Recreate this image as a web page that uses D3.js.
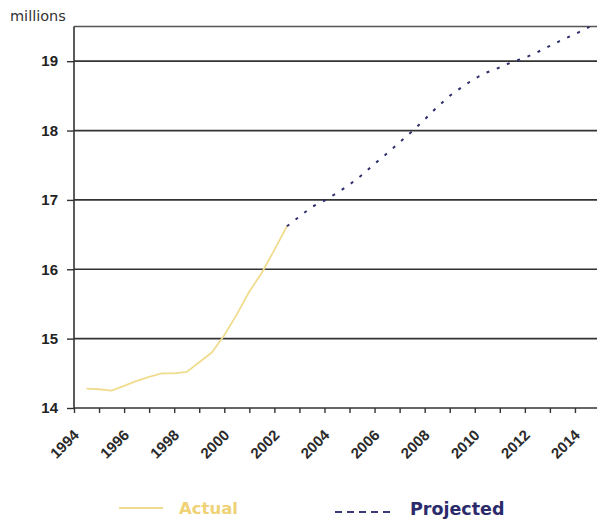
<!DOCTYPE html>
<html>
<head>
<meta charset="utf-8">
<script src="https://cdn.jsdelivr.net/npm/d3@7/dist/d3.min.js"></script>
<style>
  html, body { margin: 0; padding: 0; background: #fff; }
  svg { display: block; }
</style>
</head>
<body>
<svg id="chart" width="597" height="523"></svg>
<script>
// Population in millions, actual and projected (half-year steps)
const actualYears = [1994.5, 1995, 1995.5, 1996, 1996.5, 1997, 1997.5, 1998, 1998.5,
                     1999, 1999.5, 2000, 2000.5, 2001, 2001.5, 2002, 2002.5];
const actualValues = [14.28, 14.27, 14.25, 14.32, 14.39, 14.45, 14.50, 14.50, 14.52,
                      14.66, 14.80, 15.05, 15.35, 15.68, 15.95, 16.28, 16.62];

const projectedYears = [2002.5, 2003, 2003.5, 2004, 2004.5, 2005, 2005.5, 2006, 2006.5,
                        2007, 2007.5, 2008, 2008.5, 2009, 2009.5, 2010, 2010.5, 2011,
                        2011.5, 2012, 2012.5, 2013, 2013.5, 2014, 2014.5, 2015];
const projectedValues = [16.62, 16.76, 16.90, 16.99, 17.10, 17.22, 17.36, 17.52, 17.67,
                         17.83, 17.99, 18.16, 18.34, 18.50, 18.63, 18.75, 18.84, 18.91,
                         18.99, 19.05, 19.13, 19.22, 19.31, 19.39, 19.48, 19.58];

const yTicks = [14, 15, 16, 17, 18, 19];
const xMinorTicks = d3.range(1994, 2016, 1);
const xLabelYears = [1994, 1996, 1998, 2000, 2002, 2004, 2006, 2008, 2010, 2012, 2014];

const svg = d3.select("#chart");
const plotLeft = 74, plotRight = 600, plotTop = 26.5, plotBottom = 408;

const x = d3.scaleLinear().domain([1994, 2015]).range([plotLeft, plotRight]);
const y = d3.scaleLinear().domain([14, 19.5]).range([plotBottom, plotTop]);

// clip region for the plotted lines
svg.append("defs").append("clipPath").attr("id", "plotClip")
  .append("rect").attr("x", plotLeft).attr("y", plotTop)
  .attr("width", 597 - plotLeft).attr("height", plotBottom - plotTop);

// unit label
svg.append("text")
  .attr("x", 10).attr("y", 21)
  .attr("font-family", "'DejaVu Sans', sans-serif")
  .attr("font-size", 14.5)
  .attr("fill", "#333")
  .text("millions");

// top frame line
svg.append("line")
  .attr("x1", plotLeft).attr("x2", 597).attr("y1", plotTop).attr("y2", plotTop)
  .attr("stroke", "#555").attr("stroke-width", 1.3);

// horizontal gridlines
svg.append("g").selectAll("line").data(yTicks.filter(v => v > 14)).join("line")
  .attr("x1", plotLeft).attr("x2", 597)
  .attr("y1", d => y(d)).attr("y2", d => y(d))
  .attr("stroke", "#333").attr("stroke-width", 1.7);

// y axis
const yAxis = d3.axisLeft(y).tickValues(yTicks).tickSize(7).tickPadding(9).tickFormat(d3.format("d"));
const gy = svg.append("g").attr("transform", `translate(${plotLeft},0)`).call(yAxis);
gy.select(".domain").attr("stroke", "#333").attr("stroke-width", 1.6).attr("d", `M0,${plotTop}V${plotBottom}`);
gy.selectAll(".tick line").attr("stroke", "#333").attr("stroke-width", 1.4);
gy.selectAll(".tick text")
  .attr("font-family", "'Liberation Sans', Arial, sans-serif")
  .attr("font-weight", "bold").attr("font-size", 15).attr("fill", "#222");

// x axis with yearly ticks
const xAxis = d3.axisBottom(x).tickValues(xMinorTicks).tickSize(5).tickFormat("");
const gx = svg.append("g").attr("transform", `translate(0,${plotBottom})`).call(xAxis);
gx.select(".domain").attr("stroke", "#333").attr("stroke-width", 1.6).attr("d", `M${plotLeft},0H597`);
gx.selectAll(".tick line").attr("stroke", "#333").attr("stroke-width", 1.4);

// rotated year labels
svg.append("g").selectAll("text").data(xLabelYears).join("text")
  .attr("transform", d => `translate(${x(d) + 6},${plotBottom + 28}) rotate(-45)`)
  .attr("text-anchor", "end")
  .attr("font-family", "'Liberation Sans', Arial, sans-serif")
  .attr("font-weight", "bold").attr("font-size", 15).attr("fill", "#2a2a2a")
  .text(d => d);

const line = d3.line().x(d => x(d[0])).y(d => y(d[1]));

const plot = svg.append("g").attr("clip-path", "url(#plotClip)");

plot.append("path")
  .datum(d3.zip(actualYears, actualValues))
  .attr("d", line)
  .attr("fill", "none")
  .attr("stroke", "#f0dc8e")
  .attr("stroke-width", 1.8);

plot.append("path")
  .datum(d3.zip(projectedYears, projectedValues))
  .attr("d", line)
  .attr("fill", "none")
  .attr("stroke", "#2e2e6e")
  .attr("stroke-width", 2)
  .attr("stroke-dasharray", "3,8");

// legend
const legend = svg.append("g");
legend.append("line")
  .attr("x1", 119).attr("x2", 163).attr("y1", 508).attr("y2", 508)
  .attr("stroke", "#f0dc8e").attr("stroke-width", 2);
legend.append("text")
  .attr("x", 179).attr("y", 514)
  .attr("font-family", "'DejaVu Sans', Verdana, sans-serif")
  .attr("font-weight", "bold").attr("font-size", 16.5)
  .attr("fill", "#efd276")
  .text("Actual");
legend.append("line")
  .attr("x1", 335).attr("x2", 391).attr("y1", 512).attr("y2", 512)
  .attr("stroke", "#3a3a78").attr("stroke-width", 2)
  .attr("stroke-dasharray", "7,5");
legend.append("text")
  .attr("x", 410).attr("y", 515)
  .attr("font-family", "'DejaVu Sans', Verdana, sans-serif")
  .attr("font-weight", "bold").attr("font-size", 17.5)
  .attr("fill", "#2b2b6b")
  .text("Projected");
</script>
</body>
</html>
